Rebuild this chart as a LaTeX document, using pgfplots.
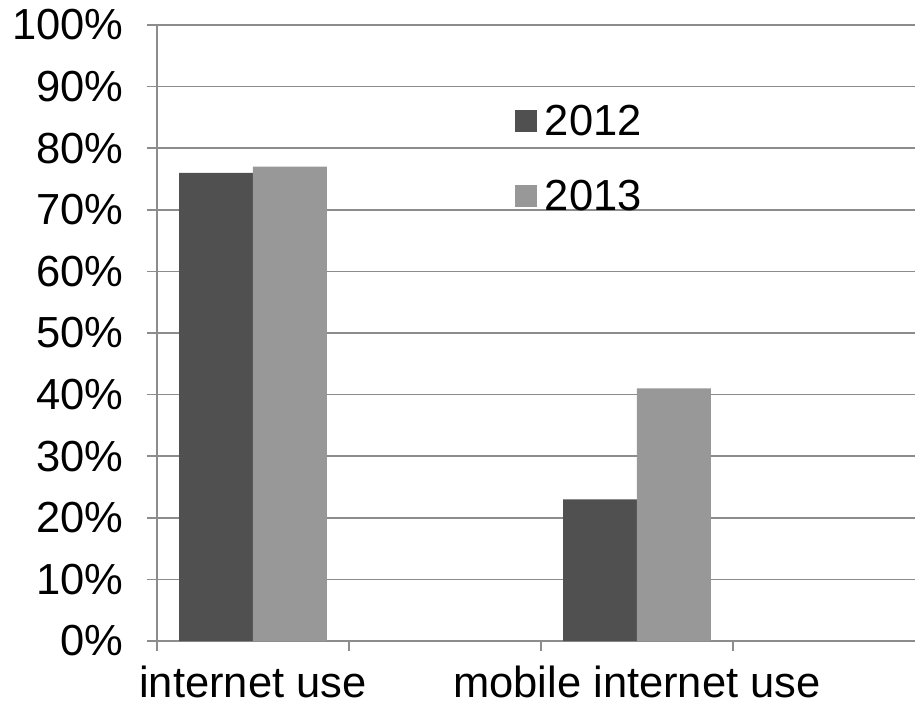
\documentclass[border=0pt]{standalone}
\usepackage{pgfplots}
\pgfplotsset{compat=1.18}
\usepackage{fontspec}
\setmainfont{Liberation Sans}
\definecolor{dark}{HTML}{505050}
\definecolor{light}{HTML}{989898}
\definecolor{gridc}{HTML}{8C8C8C}
\begin{document}
\begin{tikzpicture}
\begin{axis}[
    at={(0pt,0pt)}, anchor=south west,
    scale only axis,
    width=758pt, height=616pt,
    xmin=-0.5, xmax=3.448,
    ymin=0, ymax=100,
    axis lines=left,
    axis line style={gridc, line width=1.5pt, -},
    ybar=0pt,
    bar width=0.385,
    xtick={-0.5,0.5,1.5,2.5},
    xticklabels={},
    extra x ticks={0,2},
    extra x tick labels={internet use,mobile internet use},
    extra x tick style={major tick length=0pt, grid=none},
    ytick={0,10,...,100},
    yticklabels={0\%,10\%,20\%,30\%,40\%,50\%,60\%,70\%,80\%,90\%,100\%},
    tick align=outside,
    major tick length=10pt,
    tick style={gridc, line width=1.5pt},
    ymajorgrids,
    grid style={gridc, line width=1.5pt},
    tick label style={font=\fontsize{43.5}{52}\selectfont, black},
    yticklabel style={xshift=-20pt},
    xticklabel style={inner sep=0pt, text depth=0pt, yshift=-25pt},
    legend style={draw=none, fill=none, at={(0.468,0.877)}, anchor=north west,
        font=\fontsize{43.5}{52}\selectfont, row sep=39pt,
        /tikz/every odd column/.append style={column sep=6pt}},
    legend cell align=left,
    legend image code/.code={\fill[#1] (0pt,-11pt) rectangle (22pt,11pt);},
]
\addplot[fill=dark, draw=none] coordinates {(0,76) (2,23)};
\addplot[fill=light, draw=none] coordinates {(0,77) (2,41)};
\legend{2012,2013}
\end{axis}
\pgfresetboundingbox
\path (-157pt,-68pt) rectangle (758pt,641pt);
\end{tikzpicture}
\end{document}
